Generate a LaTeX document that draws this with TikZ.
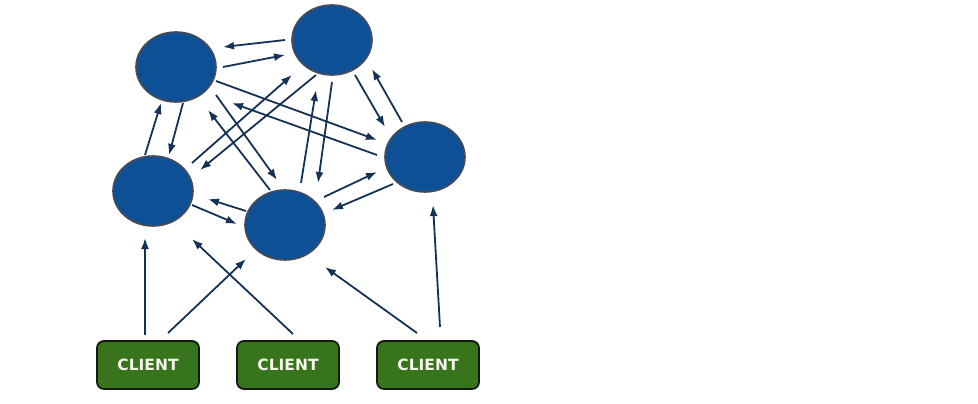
\documentclass[tikz,border=0pt]{standalone}
\usepackage{fontspec}
\newfontfamily\clientfont{DejaVu Sans}
\usetikzlibrary{arrows.meta,calc,shapes.geometric}
\definecolor{nodeblue}{RGB}{14,80,150}
\definecolor{nodeedge}{RGB}{70,75,85}
\definecolor{arrowcol}{RGB}{20,50,86}
\definecolor{clientgreen}{RGB}{56,116,28}
\definecolor{clientedge}{RGB}{20,25,18}
\tikzset{
  server/.style={ellipse, draw=nodeedge, line width=1.6pt, fill=nodeblue, minimum width=80pt, minimum height=70pt, inner sep=0pt},
  clientbox/.style={rectangle, rounded corners=7pt, draw=clientedge, line width=1.8pt, fill=clientgreen, minimum width=102pt, minimum height=48pt, inner sep=0pt, text={rgb,255:red,245;green,245;blue,235}, font=\clientfont\bfseries\fontsize{15.5}{16}\selectfont},
  arr/.style={draw=arrowcol, line width=1.8pt, -{Latex[length=11pt,width=8pt]}}
}
\begin{document}
\begin{tikzpicture}[x=1pt,y=-1pt]
\useasboundingbox (0,0) rectangle (978,404);
\node[server] (A) at (176,67) {};
\node[server] (B) at (332,40) {};
\node[server] (C) at (425,157) {};
\node[server] (D) at (153,191) {};
\node[server] (E) at (285,225) {};
\node[clientbox] (K1) at (148,365) {CLIENT};
\node[clientbox] (K2) at (288,365) {CLIENT};
\node[clientbox] (K3) at (428,365) {CLIENT};
% A - B
\draw[arr] ($(B)+(-47,0)$) -- ($(A)+(47,-20)$);
\draw[arr] ($(A)+(47,0)$) -- ($(B)+(-47,15)$);
% A - D
\draw[arr] ($(D)+(-8,-36)$) -- ($(A)+(-15,36)$);
\draw[arr] ($(A)+(7,36)$) -- ($(D)+(16,-36)$);
% A - C
\draw[arr] ($(A)+(40,14)$) -- ($(C)+(-48,-17)$);
\draw[arr] ($(C)+(-48,-2)$) -- ($(A)+(56,36)$);
% A - E
\draw[arr] ($(A)+(40,28)$) -- ($(E)+(-8,-45)$);
\draw[arr] ($(E)+(-15,-35)$) -- ($(A)+(32,43)$);
% D - B
\draw[arr] ($(D)+(39,-28)$) -- ($(B)+(-40,35)$);
\draw[arr] ($(B)+(-16,35)$) -- ($(D)+(47,-21)$);
% E - B
\draw[arr] ($(E)+(16,-42)$) -- ($(B)+(-16,50)$);
\draw[arr] ($(B)+(0,42)$) -- ($(E)+(33,-42)$);
% B - C
\draw[arr] ($(B)+(23,35)$) -- ($(C)+(-40,-30)$);
\draw[arr] ($(C)+(-23,-35)$) -- ($(B)+(40,29)$);
% D - E
\draw[arr] ($(E)+(-39,-14)$) -- ($(D)+(55,8)$);
\draw[arr] ($(D)+(39,14)$) -- ($(E)+(-48,-1)$);
% E - C
\draw[arr] ($(E)+(39,-28)$) -- ($(C)+(-48,15)$);
\draw[arr] ($(C)+(-32,27)$) -- ($(E)+(47,-15)$);
% clients
\draw[arr] ($(K1)+(-3,-30)$) -- ($(D)+(-8,47)$);
\draw[arr] ($(K1)+(20,-32)$) -- ($(E)+(-39,34)$);
\draw[arr] ($(K2)+(5,-31)$) -- ($(D)+(39,48)$);
\draw[arr] ($(K3)+(-11,-32)$) -- ($(E)+(40,42)$);
\draw[arr] ($(K3)+(12,-38)$) -- ($(C)+(8,48)$);
\end{tikzpicture}
\end{document}
